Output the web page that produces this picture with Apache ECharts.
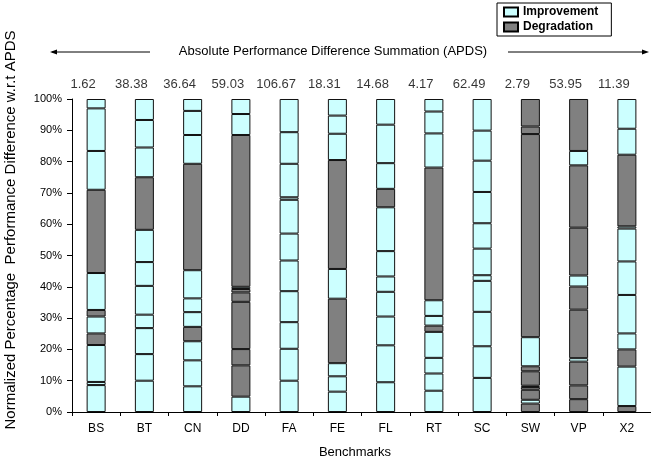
<!DOCTYPE html>
<html>
<head>
<meta charset="utf-8">
<script src="https://cdn.jsdelivr.net/npm/echarts@6/dist/echarts.min.js"></script>
<style>
  html, body { margin: 0; padding: 0; background: #fff; }
  #chart { width: 651px; height: 460px; }
</style>
</head>
<body>
<div id="chart"></div>
<script>
// Benchmarks (x axis categories)
const categories = ['BS', 'BT', 'CN', 'DD', 'FA', 'FE', 'FL', 'RT', 'SC', 'SW', 'VP', 'X2'];
// Absolute Performance Difference Summation per benchmark
const apds = [1.62, 38.38, 36.64, 59.03, 106.67, 18.31, 14.68, 4.17, 62.49, 2.79, 53.95, 11.39];
// Normalized percentage segments, bottom to top; positive = improvement, negative = degradation
const BS = [8.6, 1.0, 11.8, -3.7, 5.4, -2.1, 11.8, -26.6, 12.4, 13.6, 3.0];
const BT = [10.0, 8.5, 8.3, 4.3, 9.2, 7.6, 10.3, -16.8, 9.5, 8.8, 6.7];
const CN = [8.2, 8.3, 6.1, -4.6, 4.7, 4.4, 9.0, -34.0, 9.2, 7.7, 3.8];
const DD = [4.9, -10.0, -5.2, -15.1, -3.0, -1.1, 0.7, -48.5, 6.7, 4.8];
const FA = [10.0, 10.2, 8.5, 9.9, 9.8, 8.6, 10.8, 0.8, 10.7, 10.1, 10.6];
const FE = [6.5, 4.9, 4.2, -20.6, 9.5, -34.8, 8.4, 5.8, 5.3];
const FL = [9.5, 11.8, 9.2, 7.9, 4.9, 8.1, 14.0, -5.9, 8.2, 12.3, 8.2];
const RT = [6.8, 5.5, 5.0, 8.3, -2.0, 3.1, 5.0, -42.4, 10.9, 7.0, 4.0];
const SC = [10.9, 10.1, 11.0, 9.9, 1.8, 8.5, 8.1, 10.0, 10.0, 9.6, 10.1];
const SW = [-2.7, 1.2, -3.2, -0.9, 0.4, -4.6, -1.6, 9.3, -64.9, -2.4, -8.8];
const VP = [-4.1, -4.4, -7.6, 1.1, -15.5, -7.4, 3.5, -15.3, -19.9, 4.6, -16.6];
const X2 = [-1.9, 12.6, -5.5, 5.1, 12.3, 10.7, 10.5, 0.7, -22.9, 8.3, 9.5];
const yTicks = [0, 10, 20, 30, 40, 50, 60, 70, 80, 90, 100];

const segments = [BS, BT, CN, DD, FA, FE, FL, RT, SC, SW, VP, X2];
const CYAN = '#CCFFFF';
const GRAY = '#808080';
const FONT = '"Liberation Sans", Arial, sans-serif';

const maxSeg = Math.max(...segments.map(s => s.length));
const series = [];
for (let k = 0; k < maxSeg; k++) {
  series.push({
    type: 'bar',
    stack: 'total',
    barWidth: 19,
    silent: true,
    itemStyle: { borderColor: '#111', borderWidth: 1 },
    data: segments.map(s => k < s.length
      ? { value: Math.abs(s[k]), itemStyle: { color: s[k] >= 0 ? CYAN : GRAY } }
      : '-')
  });
}
// legend entries
series.push({ name: 'Improvement', type: 'bar', stack: 'total', barWidth: 19, data: [],
  itemStyle: { color: CYAN, borderColor: '#000', borderWidth: 1 } });
series.push({ name: 'Degradation', type: 'bar', stack: 'total', barWidth: 19, data: [],
  itemStyle: { color: GRAY, borderColor: '#000', borderWidth: 1 } });
// APDS value labels above each bar
const stackTops = segments.map(s => s.reduce((a, b) => a + Math.abs(b), 0));
series.push({
  type: 'scatter',
  symbolSize: 0,
  silent: true,
  data: stackTops,
  label: {
    show: true, position: 'top', distance: 8, offset: [-13, 0],
    fontSize: 13, color: '#000', fontFamily: FONT,
    formatter: p => apds[p.dataIndex].toFixed(2)
  }
});

const chart = echarts.init(document.getElementById('chart'), null, { renderer: 'canvas' });
chart.setOption({
  animation: false,
  textStyle: { fontFamily: FONT, color: '#000' },
  grid: { left: 72, right: 0, top: 99, bottom: 48 },
  legend: {
    orient: 'vertical',
    left: 497, top: 3,
    padding: [3, 13, 3, 6],
    itemGap: 3,
    itemWidth: 14, itemHeight: 9,
    icon: 'rect',
    borderColor: '#000', borderWidth: 1,
    selectedMode: false,
    data: ['Improvement', 'Degradation'],
    textStyle: { fontSize: 12, fontWeight: 'bold', color: '#000', fontFamily: FONT }
  },
  xAxis: {
    type: 'category',
    data: categories,
    axisLine: { lineStyle: { color: '#000', width: 1 } },
    axisTick: { show: true, alignWithLabel: false, length: 4, lineStyle: { color: '#000' } },
    axisLabel: { fontSize: 12, color: '#000', margin: 11, fontFamily: FONT },
    splitLine: { show: false }
  },
  yAxis: {
    type: 'value',
    min: yTicks[0], max: yTicks[yTicks.length - 1], interval: yTicks[1] - yTicks[0],
    axisLine: { show: true, lineStyle: { color: '#000', width: 1 } },
    axisTick: { show: true, length: 5, lineStyle: { color: '#000' } },
    axisLabel: { fontSize: 11, color: '#000', margin: 10, formatter: '{value}%', fontFamily: FONT },
    splitLine: { show: false }
  },
  graphic: [
    { type: 'text', x: 11, y: 230, rotation: Math.PI / 2,
      style: { text: 'Normalized Percentage  Performance Difference w.r.t APDS',
        font: '15px ' + FONT, fill: '#000', textAlign: 'center', textVerticalAlign: 'middle' } },
    { type: 'text', x: 355, y: 452,
      style: { text: 'Benchmarks', font: '13px ' + FONT, fill: '#000',
        textAlign: 'center', textVerticalAlign: 'middle' } },
    { type: 'text', x: 333, y: 51,
      style: { text: 'Absolute Performance Difference Summation (APDS)', font: '13px ' + FONT, fill: '#000',
        textAlign: 'center', textVerticalAlign: 'middle' } },
    { type: 'line', shape: { x1: 52, y1: 52, x2: 150, y2: 52 }, style: { stroke: '#000', lineWidth: 1 } },
    { type: 'polygon', shape: { points: [[50, 52], [57, 49.5], [57, 54.5]] }, style: { fill: '#000' } },
    { type: 'line', shape: { x1: 508, y1: 52, x2: 646, y2: 52 }, style: { stroke: '#000', lineWidth: 1 } },
    { type: 'polygon', shape: { points: [[649, 52], [642, 49.5], [642, 54.5]] }, style: { fill: '#000' } }
  ],
  series: series
});
</script>
</body>
</html>
